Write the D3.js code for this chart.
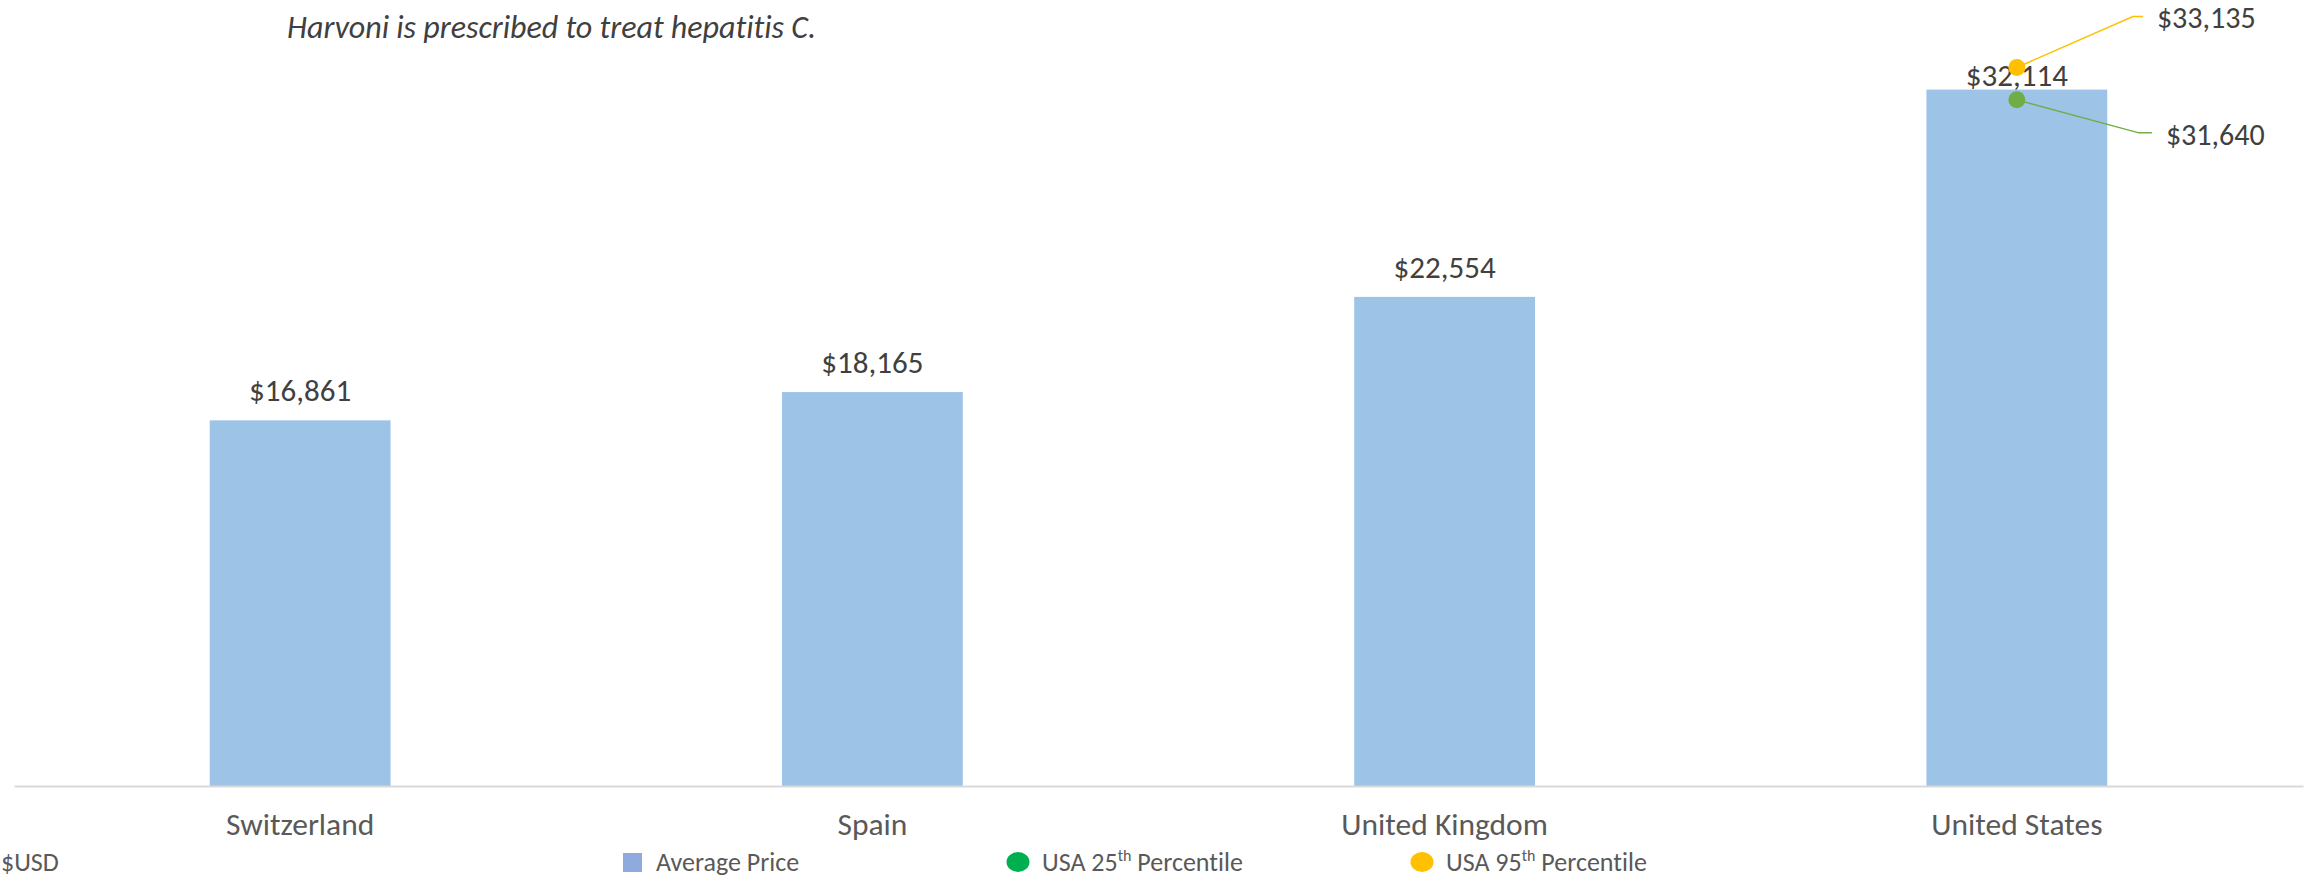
<!DOCTYPE html>
<html>
<head>
<meta charset="utf-8">
<script src="https://cdn.jsdelivr.net/npm/d3@7"></script>
<style>
  body { margin: 0; background: #fff; }
  text { font-family: Carlito, Calibri, Lato, sans-serif; font-variant-ligatures: none; }
</style>
</head>
<body>
<svg id="chart"></svg>
<script>
const countries = ["Switzerland", "Spain", "United Kingdom", "United States"];
const avgPrice = [16861, 18165, 22554, 32114];
const usaPercentiles = [
  { name: "USA 25th", value: 31640 },
  { name: "USA 95th", value: 33135 }
];
const legendLabels = ["Average Price", "USA 25", "USA 95"];
const title = "Harvoni is prescribed to treat hepatitis C.";

const width = 2305;
const height = 879;

const svg = d3.select("#chart")
  .attr("width", width)
  .attr("height", height);

const xScale = d3.scaleBand()
  .domain(countries)
  .range([14, 2303])
  .paddingInner(0.684)
  .paddingOuter(0.342);

const yScale = d3.scaleLinear()
  .domain([0, 35000])
  .range([786, 27]);

const fmt = v => "$" + d3.format(",")(v);

// title
svg.append("text")
  .attr("x", 287)
  .attr("y", 38)
  .attr("font-size", 32)
  .attr("font-style", "italic")
  .attr("fill", "#404040")
  .text(title);

// bars
const bars = countries.map((c, i) => ({ country: c, value: avgPrice[i] }));

svg.selectAll(".bar")
  .data(bars)
  .join("rect")
  .attr("class", "bar")
  .attr("x", d => xScale(d.country))
  .attr("y", d => yScale(d.value))
  .attr("width", xScale.bandwidth())
  .attr("height", d => yScale(0) - yScale(d.value))
  .attr("fill", "#9DC3E6");

// axis
const xAxis = d3.axisBottom(xScale).tickSize(0).tickPadding(27);

const gx = svg.append("g")
  .attr("transform", `translate(0, ${yScale(0)})`)
  .call(xAxis);

gx.select(".domain")
  .attr("stroke", "#D9D9D9")
  .attr("stroke-width", 2);

gx.selectAll(".tick text")
  .attr("font-size", 31.5)
  .attr("fill", "#595959")
  .style("font-family", "Carlito, Calibri, Lato, sans-serif");

// bar value labels
svg.selectAll(".bar-label")
  .data(bars)
  .join("text")
  .attr("class", "bar-label")
  .attr("x", d => xScale(d.country) + xScale.bandwidth() / 2)
  .attr("y", d => yScale(d.value) - (d.country === "United States" ? 4 : 19))
  .attr("text-anchor", "middle")
  .attr("font-size", 31)
  .attr("fill", "#404040")
  .text(d => fmt(d.value));

// USA percentile dots with leader lines
const usX = xScale("United States") + xScale.bandwidth() / 2;
const dotColor = { "USA 25th": "#70AD47", "USA 95th": "#FFC000" };
const leader = {
  "USA 25th": { dx: 122, dy: 33, hx: 13, lx: 149 },
  "USA 95th": { dx: 116, dy: -51, hx: 10, lx: 140 }
};

usaPercentiles.forEach(p => {
  const cy = yScale(p.value);
  const l = leader[p.name];
  svg.append("polyline")
    .attr("points", [
      [usX, cy],
      [usX + l.dx, cy + l.dy],
      [usX + l.dx + l.hx, cy + l.dy]
    ].map(pt => pt.join(",")).join(" "))
    .attr("fill", "none")
    .attr("stroke", dotColor[p.name])
    .attr("stroke-width", 1.5);

  svg.append("circle")
    .attr("cx", usX)
    .attr("cy", cy)
    .attr("r", 8.5)
    .attr("fill", dotColor[p.name]);

  svg.append("text")
    .attr("x", usX + l.lx)
    .attr("y", cy + l.dy + 12)
    .attr("font-size", 30)
    .attr("fill", "#404040")
    .text(fmt(p.value));
});

// legend
svg.append("text")
  .attr("x", 1)
  .attr("y", 871)
  .attr("font-size", 26)
  .attr("fill", "#595959")
  .text("$USD");

const legend = svg.append("g");

legend.append("rect")
  .attr("x", 623).attr("y", 853)
  .attr("width", 19).attr("height", 19)
  .attr("fill", "#8FAADC");

legend.append("text")
  .attr("x", 656).attr("y", 871)
  .attr("font-size", 26)
  .attr("fill", "#595959")
  .text(legendLabels[0]);

const legendDots = [
  { label: legendLabels[1], color: "#00B050", x: 1018 },
  { label: legendLabels[2], color: "#FFC000", x: 1422 }
];

legendDots.forEach(d => {
  legend.append("ellipse")
    .attr("cx", d.x).attr("cy", 862)
    .attr("rx", 11.5).attr("ry", 10)
    .attr("fill", d.color);

  const t = legend.append("text")
    .attr("x", d.x + 24).attr("y", 871)
    .attr("font-size", 26)
    .attr("fill", "#595959");
  t.append("tspan").text(d.label);
  t.append("tspan").attr("font-size", 16).attr("dy", -10).text("th");
  t.append("tspan").attr("dy", 10).text(" Percentile");
});
</script>
</body>
</html>
